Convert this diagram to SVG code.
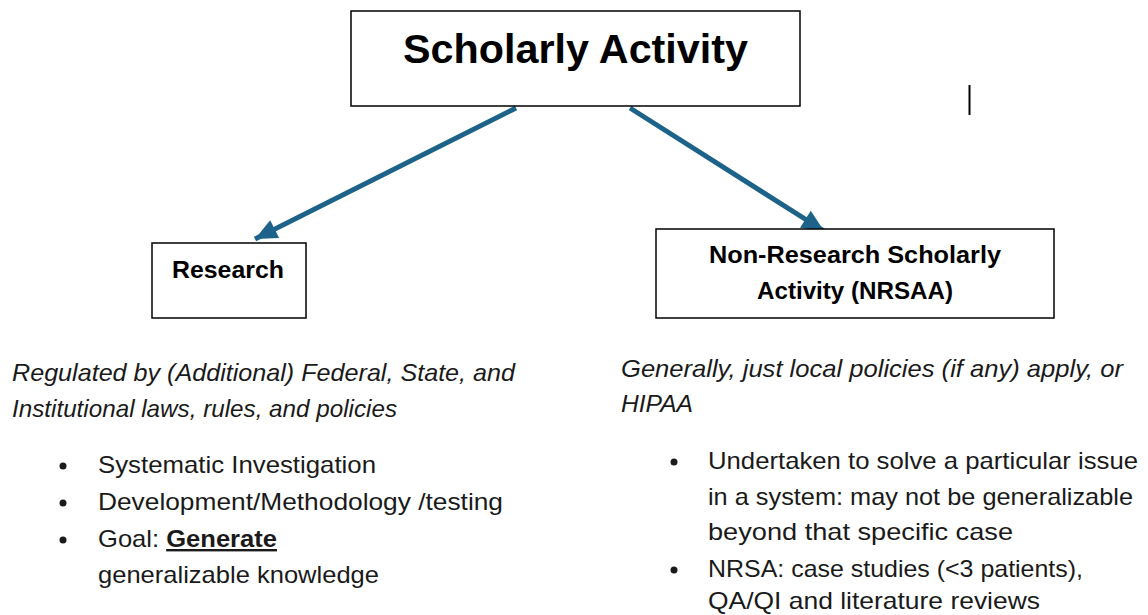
<svg xmlns="http://www.w3.org/2000/svg" width="1148" height="615" viewBox="0 0 1148 615">
<style>
.box{fill:#fff;stroke:#000;stroke-width:1.5}
.title{font-family:"Liberation Sans",Arial,sans-serif;font-weight:bold;font-size:41px;fill:#000}
.lbl{font-family:"Liberation Sans",Arial,sans-serif;font-weight:bold;font-size:23px;fill:#000}
.it{font-family:"Liberation Sans",Arial,sans-serif;font-style:italic;font-size:24px;fill:#1a1a1a}
.tx{font-family:"Liberation Sans",Arial,sans-serif;font-size:24px;fill:#1a1a1a}
.conn{stroke:#1d6389;stroke-width:5;fill:none}
</style>
<defs>
<marker id="ah" markerUnits="userSpaceOnUse" markerWidth="26" markerHeight="26" viewBox="0 0 26 26" refX="24" refY="13" orient="auto">
<path d="M2,3 L24,13 L2,23 Z" fill="#1d6389"/>
</marker>
</defs>
<rect width="1148" height="615" fill="#fff"/>
<g id="connectors">
<line class="conn" x1="516" y1="108" x2="255" y2="239" marker-end="url(#ah)"/>
<line class="conn" x1="630" y1="108" x2="824" y2="231" marker-end="url(#ah)"/>
</g>
<g id="scholarly-activity">
<rect class="box" x="351" y="11" width="449" height="95"/>
<text class="title" x="403" y="63" textLength="345" lengthAdjust="spacingAndGlyphs">Scholarly Activity</text>
</g>
<line x1="969.5" y1="85" x2="969.5" y2="115" stroke="#000" stroke-width="2"/>
<g id="research">
<rect class="box" x="152" y="243" width="154" height="75"/>
<text class="lbl" x="172" y="278" textLength="112" lengthAdjust="spacingAndGlyphs">Research</text>
</g>
<g id="nrsaa">
<rect class="box" x="656" y="229" width="398" height="89"/>
<text class="lbl" x="709" y="263" textLength="292" lengthAdjust="spacingAndGlyphs">Non-Research Scholarly</text>
<text class="lbl" x="757" y="299" textLength="196" lengthAdjust="spacingAndGlyphs">Activity (NRSAA)</text>
</g>
<g id="research-notes">
<text class="it" x="12" y="381" textLength="503" lengthAdjust="spacingAndGlyphs">Regulated by (Additional) Federal, State, and</text>
<text class="it" x="12" y="417" textLength="385" lengthAdjust="spacingAndGlyphs">Institutional laws, rules, and policies</text>
<circle cx="63" cy="466" r="3.5" fill="#1a1a1a"/>
<text class="tx" x="98" y="473" textLength="278" lengthAdjust="spacingAndGlyphs">Systematic Investigation</text>
<circle cx="63" cy="503" r="3.5" fill="#1a1a1a"/>
<text class="tx" x="98" y="510" textLength="405" lengthAdjust="spacingAndGlyphs">Development/Methodology /testing</text>
<circle cx="63" cy="540" r="3.5" fill="#1a1a1a"/>
<text class="tx" x="98" y="547" textLength="179" lengthAdjust="spacingAndGlyphs">Goal: <tspan font-weight="bold" text-decoration="underline">Generate</tspan></text>
<text class="tx" x="98" y="583" textLength="281" lengthAdjust="spacingAndGlyphs">generalizable knowledge</text>
</g>
<g id="nrsaa-notes">
<text class="it" x="621" y="377" textLength="502" lengthAdjust="spacingAndGlyphs">Generally, just local policies (if any) apply, or</text>
<text class="it" x="621" y="412" textLength="72" lengthAdjust="spacingAndGlyphs">HIPAA</text>
<circle cx="674" cy="462" r="3.5" fill="#1a1a1a"/>
<text class="tx" x="708" y="469" textLength="430" lengthAdjust="spacingAndGlyphs">Undertaken to solve a particular issue</text>
<text class="tx" x="708" y="505" textLength="425" lengthAdjust="spacingAndGlyphs">in a system: may not be generalizable</text>
<text class="tx" x="708" y="540" textLength="305" lengthAdjust="spacingAndGlyphs">beyond that specific case</text>
<circle cx="674" cy="570" r="3.5" fill="#1a1a1a"/>
<text class="tx" x="708" y="577" textLength="375" lengthAdjust="spacingAndGlyphs">NRSA: case studies (&lt;3 patients),</text>
<text class="tx" x="708" y="609" textLength="332" lengthAdjust="spacingAndGlyphs">QA/QI and literature reviews</text>
</g>
</svg>
